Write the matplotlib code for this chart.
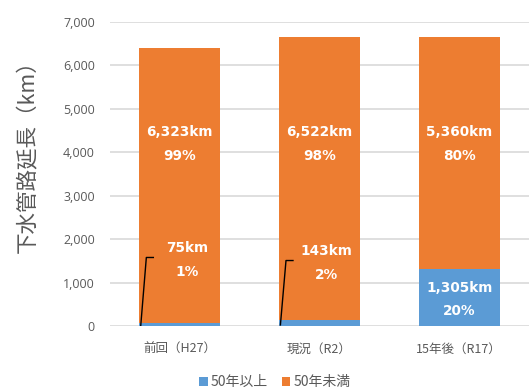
import matplotlib
matplotlib.use("Agg")
import matplotlib.pyplot as plt
import numpy as np

plt.rcParams['font.family'] = ['Noto Sans CJK JP', 'DejaVu Sans']

categories = ["前回（H27）", "現況（R2）", "15年後（R17）"]
over50 = [75, 143, 1305]
under50 = [6323, 6522, 5360]
over50_pct = ["1%", "2%", "20%"]
under50_pct = ["99%", "98%", "80%"]
yticks = [0, 1000, 2000, 3000, 4000, 5000, 6000, 7000]

blue = "#5B9BD5"
orange = "#ED7D31"
gray = "#595959"

fig = plt.figure(figsize=(5.29, 3.92), dpi=100)
ax = fig.add_axes([0.208, 0.168, 0.792, 0.776])

x = np.arange(len(categories))
w = 0.58
ax.bar(x, over50, w, color=blue, label="50年以上", zorder=3)
ax.bar(x, under50, w, bottom=over50, color=orange, label="50年未満", zorder=3)

ax.set_xlim(-0.5, len(categories) - 0.5)
ax.set_ylim(0, 7000)
ax.set_yticks(yticks)
ax.set_yticklabels([f"{v:,}" for v in yticks], fontsize=9, color=gray,
                   family=["Open Sans", "DejaVu Sans"])
ax.yaxis.grid(True, color="#D9D9D9", linewidth=1.2, zorder=0)
ax.tick_params(axis="y", length=0, pad=11)
ax.tick_params(axis="x", length=0, pad=12)
ax.set_xticks(x)
ax.set_xticklabels(categories, fontsize=9, color=gray)
for s in ax.spines.values():
    s.set_visible(False)

ax.set_ylabel("下水管路延長（km）", fontsize=15.5, color=gray)
ax.yaxis.set_label_coords(-0.17, 0.575)

lbl = dict(ha="center", va="center", color="white", fontweight="bold",
           fontsize=9.8, family=["DejaVu Sans"], linespacing=1.9, zorder=5)

# labels for the under-50-years segment
for i in range(len(categories)):
    ax.text(x[i], 4200, f"{under50[i]:,}km\n{under50_pct[i]}", **lbl)

# labels for the over-50-years segment
small_y = [1520, 1450]
for i in range(2):
    ax.text(x[i] + 0.05, small_y[i], f"{over50[i]:,}km\n{over50_pct[i]}", **lbl)
    left = x[i] - w / 2
    ly = small_y[i] + 60
    ax.plot([left + 0.01, left + 0.05, left + 0.10], [over50[i] * 0.2, ly, ly],
            color="black", linewidth=1, zorder=6)
ax.text(x[2], over50[2] / 2 - 40, f"{over50[2]:,}km\n{over50_pct[2]}", **lbl)

leg = fig.legend(loc="lower center", bbox_to_anchor=(0.52, -0.025), ncol=2,
                 frameon=False, fontsize=10, handlelength=0.6, handleheight=0.6,
                 handletextpad=0.25, columnspacing=1.0)
for t in leg.get_texts():
    t.set_color(gray)

fig.savefig("out.png", dpi=100)
